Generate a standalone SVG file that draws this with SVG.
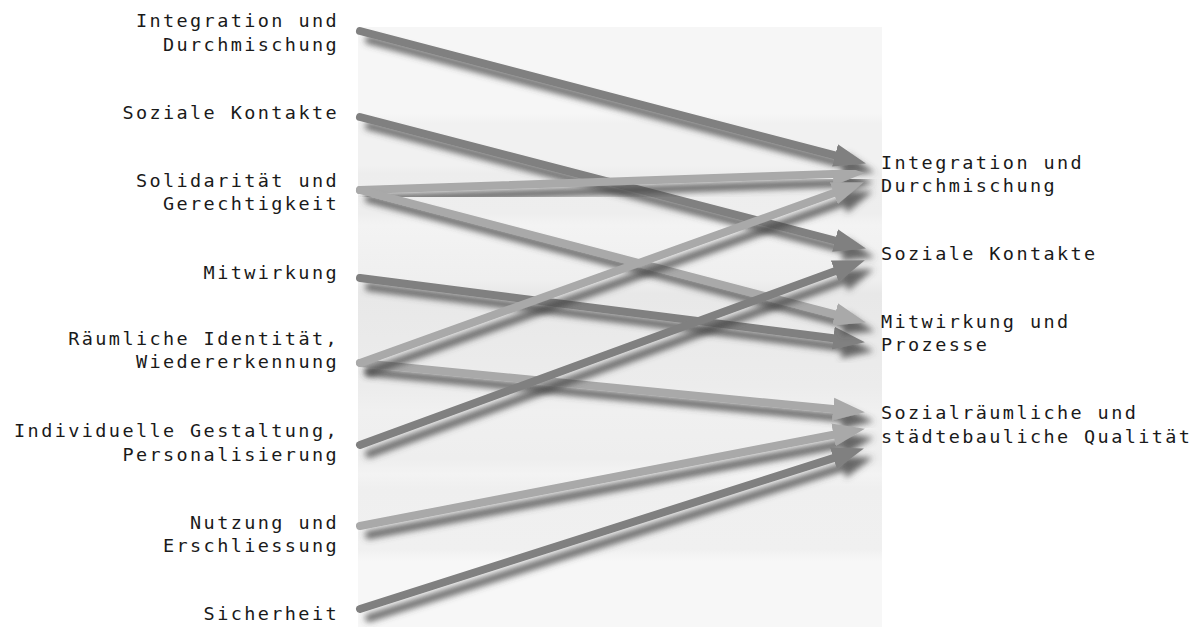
<svg xmlns="http://www.w3.org/2000/svg" width="1203" height="627" viewBox="0 0 1203 627">
  <style>
    .lbl { font-family: "DejaVu Sans Mono", "Liberation Mono", monospace; font-size: 18.5px; letter-spacing: 2.4px; fill: #1a1a1a; }
    .src { text-anchor: end; }
    .dark { stroke: #808080; fill: #808080; }
    .light { stroke: #a9a9a9; fill: #a9a9a9; }
    .shaft { stroke-width: 8; stroke-linecap: round; fill: none; }
    .arrow { filter: url(#shadow); }
  </style>
  <defs>
    <linearGradient id="bands" x1="0" y1="0" x2="0" y2="1">
      <stop offset="0" stop-color="#f6f6f6"/>
      <stop offset="0.145" stop-color="#f6f6f6"/>
      <stop offset="0.16" stop-color="#f1f1f1"/>
      <stop offset="0.23" stop-color="#f1f1f1"/>
      <stop offset="0.245" stop-color="#ededed"/>
      <stop offset="0.31" stop-color="#eeeeee"/>
      <stop offset="0.33" stop-color="#f3f3f3"/>
      <stop offset="0.42" stop-color="#efefef"/>
      <stop offset="0.445" stop-color="#e8e8e8"/>
      <stop offset="0.52" stop-color="#eaeaea"/>
      <stop offset="0.6" stop-color="#ececec"/>
      <stop offset="0.64" stop-color="#f0f0f0"/>
      <stop offset="0.72" stop-color="#eeeeee"/>
      <stop offset="0.745" stop-color="#f3f3f3"/>
      <stop offset="0.77" stop-color="#efefef"/>
      <stop offset="0.87" stop-color="#f0f0f0"/>
      <stop offset="0.89" stop-color="#f7f7f7"/>
      <stop offset="1" stop-color="#f7f7f7"/>
    </linearGradient>
    <filter id="shadow" x="-10%" y="-20%" width="130%" height="160%">
      <feGaussianBlur in="SourceAlpha" stdDeviation="3.2" result="b"/>
      <feOffset in="b" dx="9" dy="9" result="o"/>
      <feFlood flood-color="#454545" flood-opacity="0.8"/>
      <feComposite in2="o" operator="in" result="s"/>
      <feMerge>
        <feMergeNode in="s"/>
        <feMergeNode in="SourceGraphic"/>
      </feMerge>
    </filter>
    <marker id="headDark" markerUnits="userSpaceOnUse" markerWidth="34" markerHeight="26" refX="0" refY="12" orient="auto">
      <path d="M0,0.5 L32,12 L0,23.5 z" fill="#808080"/>
    </marker>
    <marker id="headLight" markerUnits="userSpaceOnUse" markerWidth="34" markerHeight="26" refX="0" refY="12" orient="auto">
      <path d="M0,0.5 L32,12 L0,23.5 z" fill="#a9a9a9"/>
    </marker>
  </defs>

  <rect x="0" y="0" width="1203" height="627" fill="#ffffff"/>
  <rect x="358" y="27" width="524" height="600" fill="url(#bands)"/>

  <!-- connectors: each shaft ends at the base of its arrowhead -->
  <g id="connectors">
    <g class="arrow"><line class="shaft dark" x1="360" y1="31" x2="835.0" y2="155.4" marker-end="url(#headDark)"/></g>
    <g class="arrow"><line class="shaft dark" x1="360" y1="117" x2="835.0" y2="240.5" marker-end="url(#headDark)"/></g>
    <g class="arrow"><line class="shaft dark" x1="360" y1="278" x2="833.2" y2="338.2" marker-end="url(#headDark)"/></g>
    <g class="arrow"><line class="shaft light" x1="360" y1="190" x2="833.0" y2="174.0" marker-end="url(#headLight)"/></g>
    <g class="arrow"><line class="shaft light" x1="360" y1="190" x2="835.0" y2="314.4" marker-end="url(#headLight)"/></g>
    <g class="arrow"><line class="shaft light" x1="360" y1="363" x2="833.1" y2="409.1" marker-end="url(#headLight)"/></g>
    <g class="arrow"><line class="shaft light" x1="360" y1="363" x2="833.8" y2="193.1" marker-end="url(#headLight)"/></g>
    <g class="arrow"><line class="shaft dark" x1="360" y1="445" x2="834.8" y2="271.3" marker-end="url(#headDark)"/></g>
    <g class="arrow"><line class="shaft light" x1="360" y1="526" x2="833.5" y2="434.7" marker-end="url(#headLight)"/></g>
    <g class="arrow"><line class="shaft dark" x1="360" y1="609" x2="833.4" y2="458.1" marker-end="url(#headDark)"/></g>
  </g>

  <!-- source factors (left column) -->
  <g id="src-integration"><text class="lbl src" x="339" y="27">Integration und</text><text class="lbl src" x="339" y="51">Durchmischung</text></g>
  <g id="src-kontakte"><text class="lbl src" x="339" y="119">Soziale Kontakte</text></g>
  <g id="src-solidaritaet"><text class="lbl src" x="339" y="187">Solidarität und</text><text class="lbl src" x="339" y="210">Gerechtigkeit</text></g>
  <g id="src-mitwirkung"><text class="lbl src" x="339" y="279">Mitwirkung</text></g>
  <g id="src-identitaet"><text class="lbl src" x="339" y="345">Räumliche Identität,</text><text class="lbl src" x="339" y="368">Wiedererkennung</text></g>
  <g id="src-gestaltung"><text class="lbl src" x="339" y="437">Individuelle Gestaltung,</text><text class="lbl src" x="339" y="461">Personalisierung</text></g>
  <g id="src-nutzung"><text class="lbl src" x="339" y="529">Nutzung und</text><text class="lbl src" x="339" y="552">Erschliessung</text></g>
  <g id="src-sicherheit"><text class="lbl src" x="339" y="620">Sicherheit</text></g>

  <!-- target qualities (right column) -->
  <g id="dst-integration"><text class="lbl" x="881" y="169">Integration und</text><text class="lbl" x="881" y="192">Durchmischung</text></g>
  <g id="dst-kontakte"><text class="lbl" x="881" y="260">Soziale Kontakte</text></g>
  <g id="dst-mitwirkung"><text class="lbl" x="881" y="328">Mitwirkung und</text><text class="lbl" x="881" y="351">Prozesse</text></g>
  <g id="dst-qualitaet"><text class="lbl" x="881" y="419">Sozialräumliche und</text><text class="lbl" x="881" y="443">städtebauliche Qualität</text></g>
</svg>
